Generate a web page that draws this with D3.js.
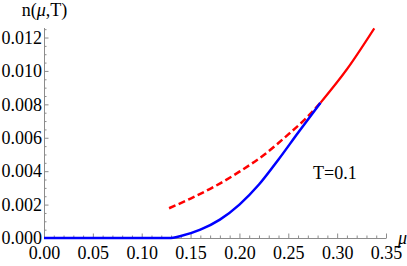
<!DOCTYPE html>
<html>
<head>
<meta charset="utf-8">
<script src="https://cdn.jsdelivr.net/npm/d3@7"></script>
<style>
  body { margin: 0; background: #fff; }
  svg { display: block; font-family: "Liberation Serif", "DejaVu Serif", serif; }
  .axis path, .axis line { stroke: #8c8c8c; }
  .axis text { fill: #000; font-size: 18px; font-family: "Liberation Serif", serif; }
</style>
</head>
<body>
<svg></svg>
<script>
// blue: n(mu,T) full curve
const blueMu = [0, 0.128, 0.14, 0.16, 0.18, 0.2, 0.22, 0.24, 0.26, 0.283];
const blueN = [0, 0, 0.00012, 0.0005, 0.0011, 0.002, 0.0032, 0.0047, 0.0063, 0.0081];

// red dashed part
const redDashMu = [0.128, 0.15, 0.175, 0.2, 0.225, 0.25, 0.267, 0.283];
const redDashN = [0.00178, 0.00236, 0.0031, 0.00397, 0.00497, 0.0062, 0.0071, 0.0081];

// red solid part
const redSolidMu = [0.283, 0.31, 0.338];
const redSolidN = [0.0081, 0.0101, 0.01255];

const xMajor = [0, 0.05, 0.1, 0.15, 0.2, 0.25, 0.3, 0.35];
const yMajor = [0, 0.002, 0.004, 0.006, 0.008, 0.01, 0.012];

const width = 407;
const height = 266;

const svg = d3.select("svg").attr("width", width).attr("height", height);

const xScale = d3.scaleLinear().domain([0, 0.35]).range([44, 386]);
const yScale = d3.scaleLinear().domain([0, 0.0126]).range([238, 27.5]);

const xMinor = d3.range(0, 0.3501, 0.01).filter((v) => Math.abs(v * 20 - Math.round(v * 20)) > 1e-6);
const yMinor = d3.range(0, 0.01255, 0.0005).filter((v) => Math.abs(v * 500 - Math.round(v * 500)) > 1e-6);

function drawAxes() {
  svg.append("g")
    .attr("class", "axis")
    .attr("transform", "translate(0,238)")
    .call(d3.axisBottom(xScale).tickValues(xMinor).tickSize(-2.5).tickFormat(""))
    .select(".domain").remove();

  svg.append("g")
    .attr("class", "axis")
    .attr("transform", "translate(0,238)")
    .call(d3.axisBottom(xScale).tickValues(xMajor).tickSizeInner(-4.5).tickSizeOuter(0)
      .tickPadding(8).tickFormat(d3.format(".2f")));

  svg.append("g")
    .attr("class", "axis")
    .attr("transform", "translate(44,0)")
    .call(d3.axisLeft(yScale).tickValues(yMinor).tickSize(-2.5).tickFormat(""))
    .select(".domain").remove();

  svg.append("g")
    .attr("class", "axis")
    .attr("transform", "translate(44,0)")
    .call(d3.axisLeft(yScale).tickValues(yMajor).tickSizeInner(-4.5).tickSizeOuter(0)
      .tickPadding(2).tickFormat(d3.format(".3f")));

  const title = svg.append("text").attr("x", 44.5).attr("y", 16)
    .attr("text-anchor", "middle").style("font-size", "18px");
  title.append("tspan").text("n(");
  title.append("tspan").style("font-style", "italic").text("μ");
  title.append("tspan").text(",T)");

  svg.append("text").attr("x", 398).attr("y", 244)
    .style("font-size", "18px").style("font-style", "italic").text("μ");

  svg.append("text").attr("x", 313).attr("y", 179)
    .style("font-size", "18px").text("T=0.1");
}

function drawLine(mu, n, color, w, dash) {
  const line = d3.line()
    .x((d) => xScale(d[0]))
    .y((d) => yScale(d[1]))
    .curve(d3.curveMonotoneX);
  svg.append("path")
    .datum(mu.map((m, i) => [m, n[i]]))
    .attr("d", line)
    .attr("fill", "none")
    .attr("stroke", color)
    .attr("stroke-width", w)
    .attr("stroke-dasharray", dash);
}

drawAxes();
drawLine(redDashMu, redDashN, "#ff0000", 2.5, "7,3.5");
drawLine(redSolidMu, redSolidN, "#ff0000", 2.2, null);
drawLine(blueMu, blueN, "#0000ff", 2.5, null);
</script>
</body>
</html>
